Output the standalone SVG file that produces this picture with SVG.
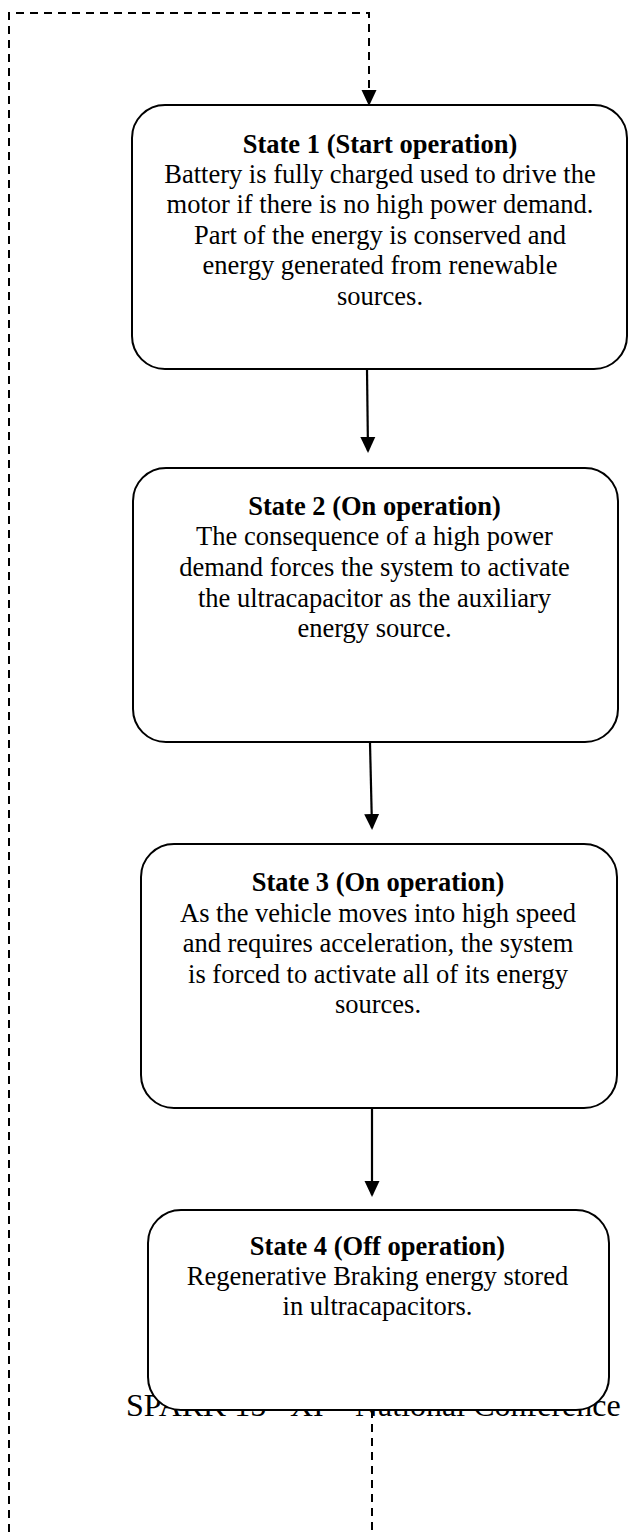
<svg xmlns="http://www.w3.org/2000/svg" width="628" height="1532" viewBox="0 0 628 1532">
<style>
.box{fill:#fff;stroke:#000;stroke-width:2}
.t{font-family:"Liberation Serif","Times New Roman",serif;font-size:26.5px;fill:#000;text-anchor:middle}
.b{font-weight:bold}
.solid{stroke:#000;stroke-width:2.2;fill:none}
.dash{stroke:#000;stroke-width:2;fill:none;stroke-dasharray:8 6}
.foot{font-family:"Liberation Serif","Times New Roman",serif;font-size:32px;fill:#000}
</style>
<defs>
<marker id="ah" markerUnits="userSpaceOnUse" markerWidth="16" markerHeight="16" viewBox="0 0 16 16" refX="14" refY="8" orient="auto">
<path d="M0,0.5 L16,8 L0,15.5 z" fill="#000"/>
</marker>
</defs>
<rect width="628" height="1532" fill="#fff"/>
<g id="connectors">
<path class="dash" d="M9,1532 V13 H369 V104" marker-end="url(#ah)"/>
<path class="dash" d="M372,1410 V1532"/>
</g>
<g id="footer">
<text class="foot" y="1416"><tspan x="126">SPARK 15</tspan><tspan x="290">XI</tspan><tspan x="355">National Conference</tspan></text>
</g>
<g id="state1">
<rect class="box" x="132" y="105" width="495" height="264" rx="33" ry="33"/>
<text class="t b" x="380" y="153">State 1 (Start operation)</text>
<text class="t" x="380" y="183">Battery is fully charged used to drive the</text>
<text class="t" x="380" y="213">motor if there is no high power demand.</text>
<text class="t" x="380" y="243.5">Part of the energy is conserved and</text>
<text class="t" x="380" y="274">energy generated from renewable</text>
<text class="t" x="380" y="305">sources.</text>
</g>
<g id="state2">
<rect class="box" x="133" y="468" width="485" height="274" rx="33" ry="33"/>
<text class="t b" x="374.5" y="515">State 2 (On operation)</text>
<text class="t" x="374.5" y="545">The consequence of a high power</text>
<text class="t" x="374.5" y="576">demand forces the system to activate</text>
<text class="t" x="374.5" y="607">the ultracapacitor as the auxiliary</text>
<text class="t" x="374.5" y="637">energy source.</text>
</g>
<g id="state3">
<rect class="box" x="141" y="844" width="476" height="264" rx="33" ry="33"/>
<text class="t b" x="378" y="891">State 3 (On operation)</text>
<text class="t" x="378" y="922">As the vehicle moves into high speed</text>
<text class="t" x="378" y="952">and requires acceleration, the system</text>
<text class="t" x="378" y="983">is forced to activate all of its energy</text>
<text class="t" x="378" y="1013">sources.</text>
</g>
<g id="state4">
<rect class="box" x="148" y="1210" width="461" height="200" rx="33" ry="33"/>
<text class="t b" x="377.5" y="1255">State 4 (Off operation)</text>
<text class="t" x="377.5" y="1285">Regenerative Braking energy stored</text>
<text class="t" x="377.5" y="1315">in ultracapacitors.</text>
</g>
<g id="arrows">
<path class="solid" d="M367,370 L368,451" marker-end="url(#ah)"/>
<path class="solid" d="M370,743 L372,828" marker-end="url(#ah)"/>
<path class="solid" d="M372,1109 L372,1195" marker-end="url(#ah)"/>
</g>
</svg>
